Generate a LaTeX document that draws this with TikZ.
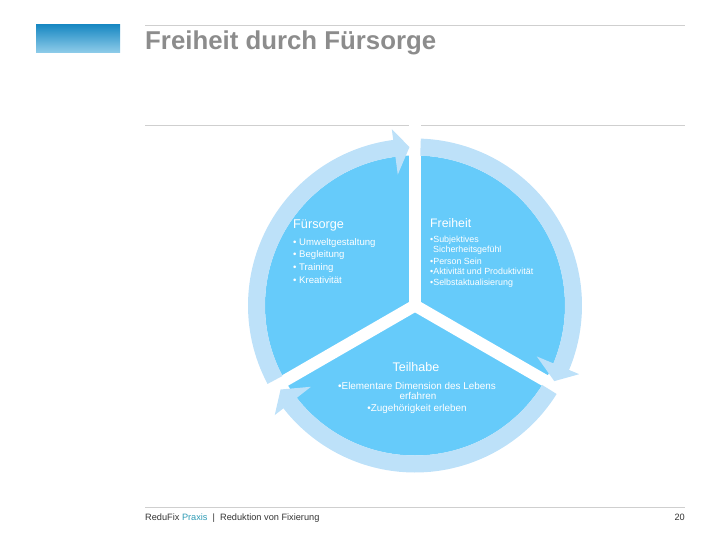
\documentclass[tikz,border=0pt]{standalone}
\usepackage{fontspec}
\setmainfont{Liberation Sans}
\definecolor{pieblue}{HTML}{66CBFA}
\definecolor{ringblue}{HTML}{BDE1F9}
\definecolor{titlegray}{HTML}{8C8C8C}
\definecolor{linegray}{HTML}{CFCFCF}
\definecolor{praxisteal}{HTML}{2E9BB5}
\definecolor{footgray}{HTML}{333333}
\definecolor{bartop}{HTML}{1A89C3}
\definecolor{barbottom}{HTML}{90CDEA}
\newcommand\ringarrow[3]{%
  \fill[ringblue] (#1:167) arc[start angle=#1, end angle=#2, radius=167]
    -- (#2:178) -- (#3:158.5) -- (#2:132) -- (#2:150)
    arc[start angle=#2, end angle=#1, radius=150] -- cycle;}
\begin{document}
\begin{tikzpicture}[x=1pt,y=1pt,
  rule/.style={draw=linegray, line width=0.8},
  pietext/.style={text=white, inner sep=0, anchor=base west},
  centertext/.style={text=white, inner sep=0, anchor=base},
  foot/.style={text=footgray, inner sep=0, font=\fontsize{9.2}{11}\selectfont}]
\useasboundingbox (0,0) rectangle (720,-540);
% header
\shade[top color=bartop, bottom color=barbottom] (36,-25) rectangle (120,-53);
\draw[rule] (145,-25) -- (685,-25);
\draw[rule] (145,-125) -- (685,-125);
\draw[rule] (145,-507) -- (685,-507);
\node[anchor=base west, inner sep=0, text=titlegray, font=\fontsize{25.8}{30}\selectfont\bfseries] (title) at (145,-50) {Freiheit durch Fürsorge};
% cycle
\begin{scope}[shift={(415,-305.5)}]
  \fill[pieblue] (0,0) circle[radius=150];
  \foreach \a in {90,210,330} \draw[white, line width=12] (0,0) -- (\a:185);
  \ringarrow{208}{97.5}{92}
  \ringarrow{88}{-22.7}{-28.5}
  \ringarrow{-32}{-142}{-148}
\end{scope}
% Fürsorge
\node[pietext, font=\fontsize{12.7}{15}\selectfont] (fh) at (293,-228.5) {Fürsorge};
\begin{scope}[every node/.append style={pietext, font=\fontsize{9.6}{11}\selectfont}]
  \node (f1) at (293,-245) {• Umweltgestaltung};
  \node (f2) at (293,-257.8) {• Begleitung};
  \node (f3) at (293,-270.3) {• Training};
  \node (f4) at (293,-283) {• Kreativität};
\end{scope}
% Freiheit
\node[pietext, font=\fontsize{12.3}{15}\selectfont] (rh) at (430,-227) {Freiheit};
\begin{scope}[every node/.append style={pietext, font=\fontsize{8.9}{10}\selectfont}]
  \node (r1) at (430,-243) {•Subjektives};
  \node (r2) at (433,-252) {Sicherheitsgefühl};
  \node (r3) at (430,-264) {•Person Sein};
  \node (r4) at (430,-274.5) {•Aktivität und Produktivität};
  \node (r5) at (430,-285.5) {•Selbstaktualisierung};
\end{scope}
% Teilhabe
\node[centertext, font=\fontsize{12.5}{15}\selectfont] (th) at (416,-371.5) {Teilhabe};
\begin{scope}[every node/.append style={centertext, font=\fontsize{9.9}{11}\selectfont}]
  \node (t1) at (417,-389) {•Elementare Dimension des Lebens};
  \node (t2) at (418,-399.5) {erfahren};
  \node (t3) at (417,-411) {•Zugehörigkeit erleben};
\end{scope}
% footer
\node[foot, anchor=base west] (ft) at (145,-520) {ReduFix \textcolor{praxisteal}{Praxis} \ |\ \ Reduktion von Fixierung};
\node[foot, anchor=base east] (pg) at (685,-520) {20};
\end{tikzpicture}
\end{document}
